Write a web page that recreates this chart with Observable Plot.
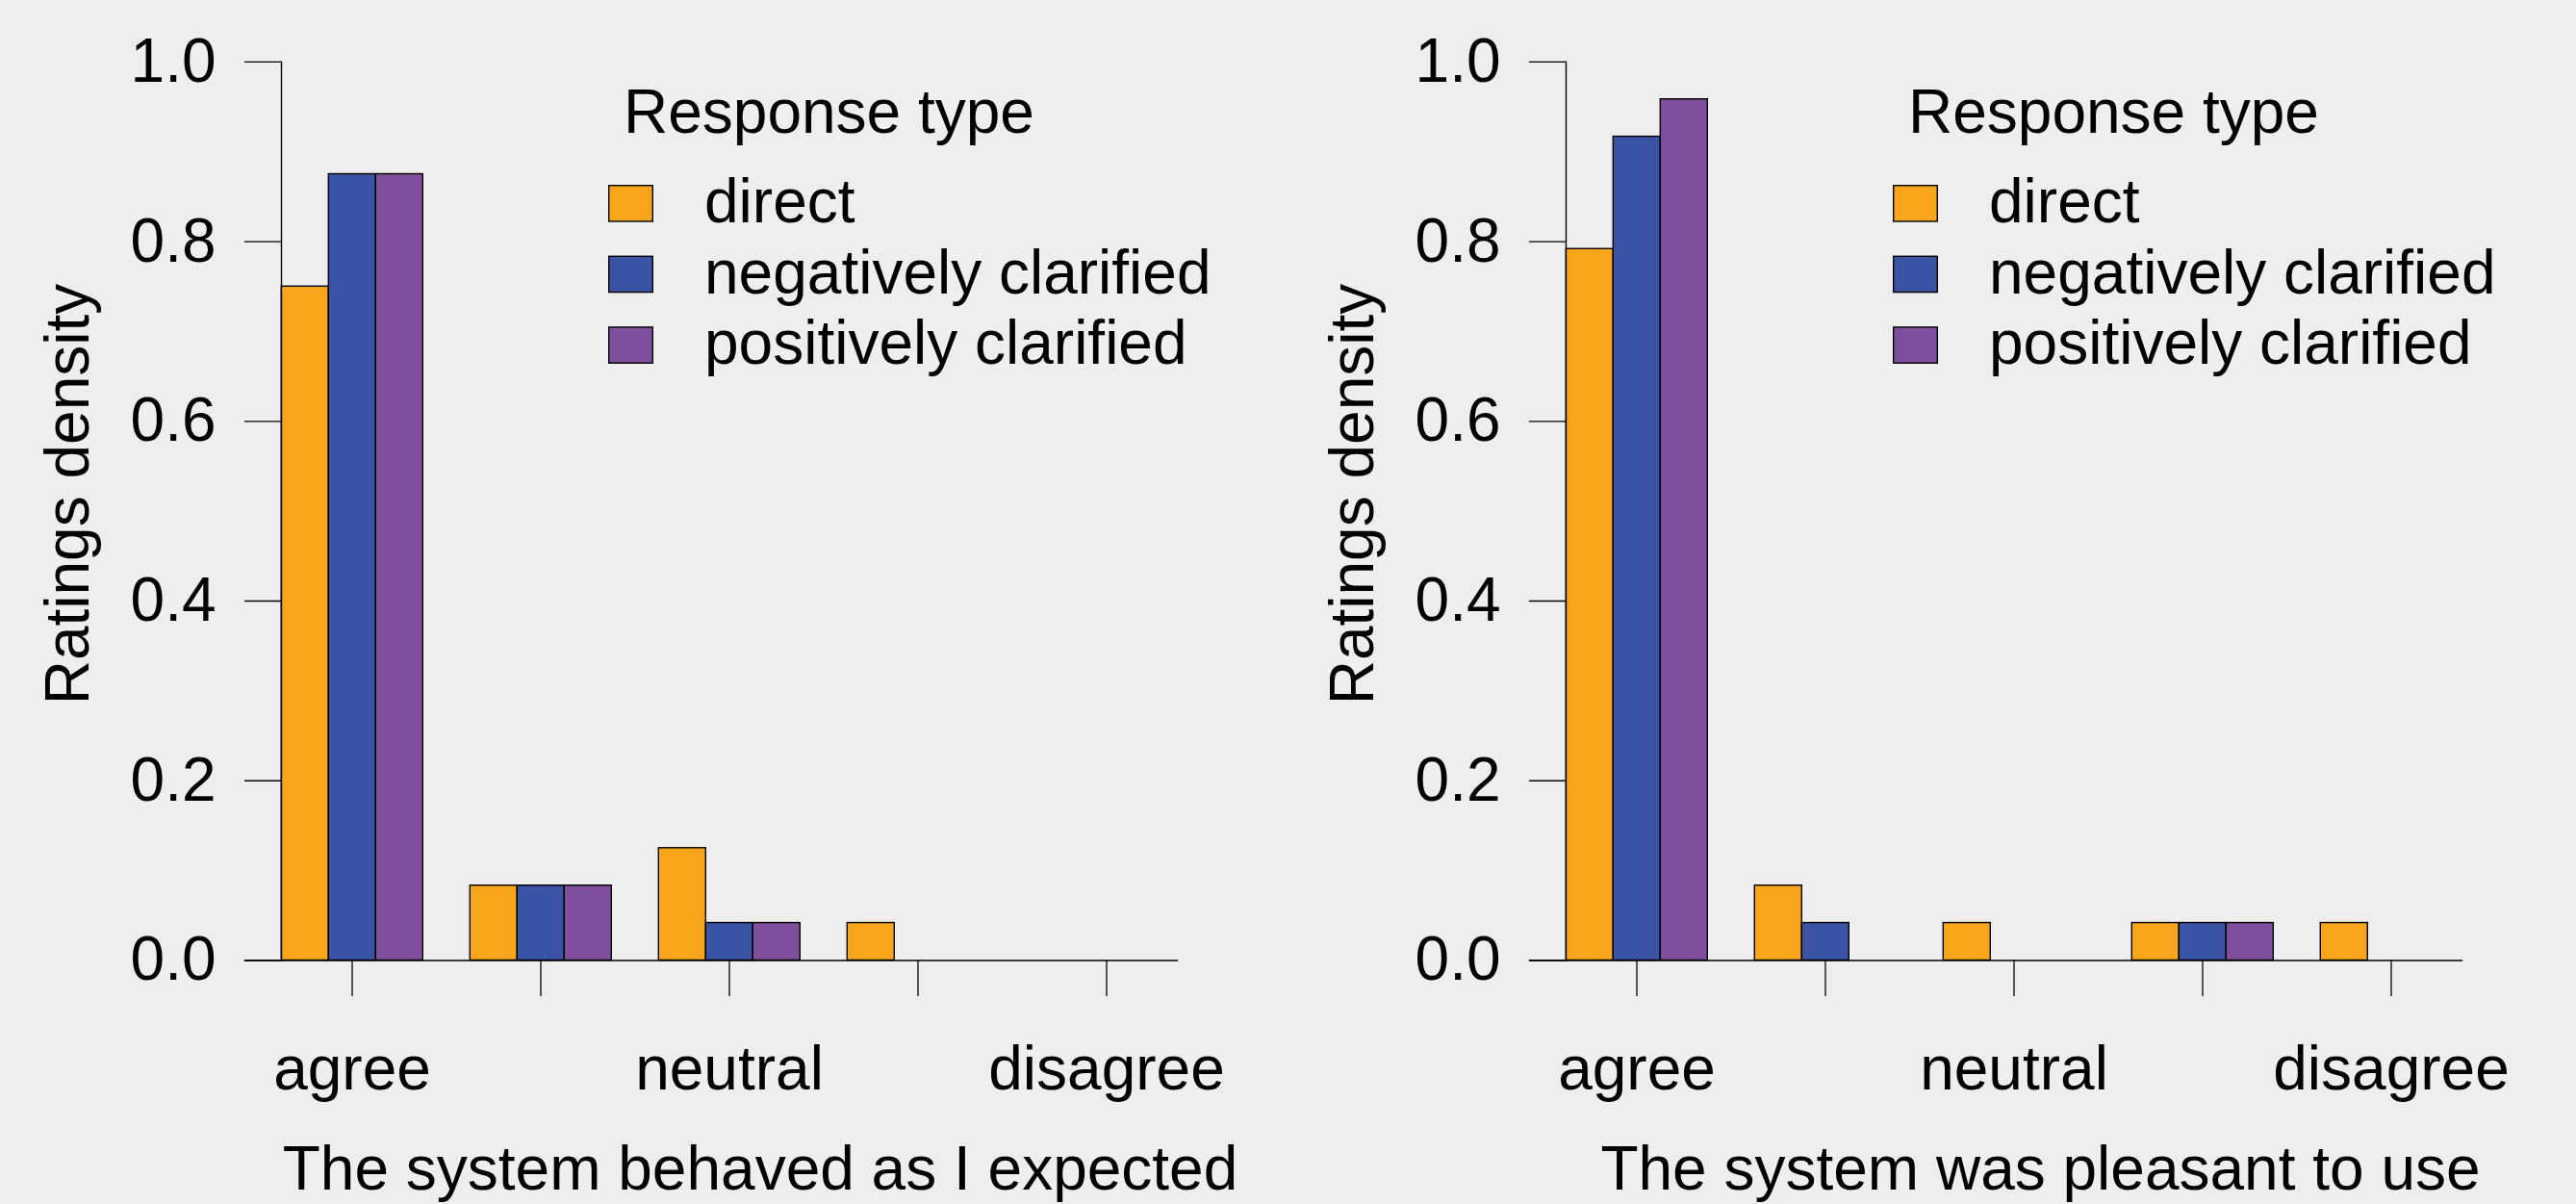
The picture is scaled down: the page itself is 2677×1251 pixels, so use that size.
<!DOCTYPE html>
<html>
<head>
<meta charset="utf-8">
<script src="https://cdn.jsdelivr.net/npm/d3@7"></script>
<script src="https://cdn.jsdelivr.net/npm/@observablehq/plot@0.6"></script>
<style>
  html, body { margin: 0; padding: 0; background: #eeeeee; }
  #wrap { position: relative; width: 2677px; height: 1251px; overflow: hidden; background: #eeeeee; }
  .panel { position: absolute; top: 0; }
</style>
</head>
<body>
<div id="wrap"></div>
<script>
// ---- data ----
const ratingLevels = [1, 2, 3, 4, 5];
const tickLabels = ["agree", "", "neutral", "", "disagree"];
const responseTypes = ["direct", "negatively clarified", "positively clarified"];
const responseColors = ["#F9A51B", "#3A53A4", "#7F4F9E"];
const yTicks = [0, 0.2, 0.4, 0.6, 0.8, 1.0];
const yLabel = "Ratings density";
const legendTitle = "Response type";

// Panel 1: "The system behaved as I expected"
const expectedTitle = "The system behaved as I expected";
const expectedDirect   = [0.750, 0.0833, 0.125, 0.0417, 0];
const expectedNegative = [0.875, 0.0833, 0.0417, 0, 0];
const expectedPositive = [0.875, 0.0833, 0.0417, 0, 0];

// Panel 2: "The system was pleasant to use"
const pleasantTitle = "The system was pleasant to use";
const pleasantDirect   = [0.7917, 0.0833, 0.0417, 0.0417, 0.0417];
const pleasantNegative = [0.9167, 0.0417, 0, 0.0417, 0];
const pleasantPositive = [0.9583, 0, 0, 0.0417, 0];

const FONT = "'Liberation Sans', Arial, Helvetica, sans-serif";

function makePanel(title, seriesValues, titleDx, left) {
  const data = [];
  responseTypes.forEach((t, j) =>
    ratingLevels.forEach((r, i) => data.push({rating: r, type: t, value: seriesValues[j][i]}))
  );
  const W = 1342;
  const plot = Plot.plot({
    width: W,
    height: 1251,
    marginLeft: 290.7,
    marginRight: W - 1224.3,
    marginTop: 63.8,
    marginBottom: 1251 - 997.5,
    style: {background: "transparent", fontFamily: FONT, fontSize: "64px", color: "black", overflow: "visible"},
    fx: {domain: ratingLevels, paddingInner: 0.25, paddingOuter: 0, axis: null, label: null},
    x: {domain: responseTypes, padding: 0, axis: null},
    y: {domain: [0, 1], axis: null},
    color: {domain: responseTypes, range: responseColors},
    marks: [
      Plot.barY(data, {fx: "rating", x: "type", y: "value", fill: "type", stroke: "black", strokeWidth: 1.4}),
      Plot.frame({anchor: "bottom", facet: "super", insetLeft: -38, stroke: "black", strokeWidth: 1.4}),
      Plot.frame({anchor: "left", facet: "super", stroke: "black", strokeWidth: 1.4}),
      Plot.axisY({ticks: yTicks, tickFormat: d3.format(".1f"), tickSize: 38, tickPadding: 30,
                  fontSize: 64, label: null, stroke: "black", strokeWidth: 1.3}),
      Plot.axisFx({anchor: "bottom", tickSize: 37.5, tickPadding: 51.3,
                   tickFormat: d => tickLabels[ratingLevels.indexOf(d)],
                   fontSize: 64, label: null, stroke: "black", strokeWidth: 1.3}),
      Plot.text([yLabel], {text: d => d, facet: "super", frameAnchor: "left", rotate: -90,
                           textAnchor: "middle", lineAnchor: "middle",
                           dx: 70.2 - 290.7, dy: 513 - 530.65, fontSize: 64, fill: "black"}),
      Plot.text([title], {text: d => d, facet: "super", frameAnchor: "bottom", lineAnchor: "bottom",
                          textAnchor: "middle", dx: titleDx, dy: 237.5, fontSize: 64, fill: "black"})
    ]
  });

  // legend (inside the plot area, top right)
  const svg = d3.select(plot);
  const lg = svg.append("g").attr("font-family", FONT).attr("font-size", 64)
    .attr("fill", "black").attr("text-anchor", "start");
  lg.append("text").attr("x", 648).attr("y", 138.3).text(legendTitle);
  responseTypes.forEach((t, j) => {
    const y0 = 192.7 + j * 73.6;
    lg.append("rect").attr("x", 632.7).attr("y", y0).attr("width", 45.6).attr("height", 37.3)
      .attr("fill", responseColors[j]).attr("stroke", "black").attr("stroke-width", 1.4);
    lg.append("text").attr("x", 732).attr("y", y0 + 38.5).text(t);
  });

  const div = document.createElement("div");
  div.className = "panel";
  div.style.left = left + "px";
  div.appendChild(plot);
  document.getElementById("wrap").appendChild(div);
}

makePanel(expectedTitle, [expectedDirect, expectedNegative, expectedPositive], 32, 0);
makePanel(pleasantTitle, [pleasantDirect, pleasantNegative, pleasantPositive], 27.5, 1335);
</script>
</body>
</html>
